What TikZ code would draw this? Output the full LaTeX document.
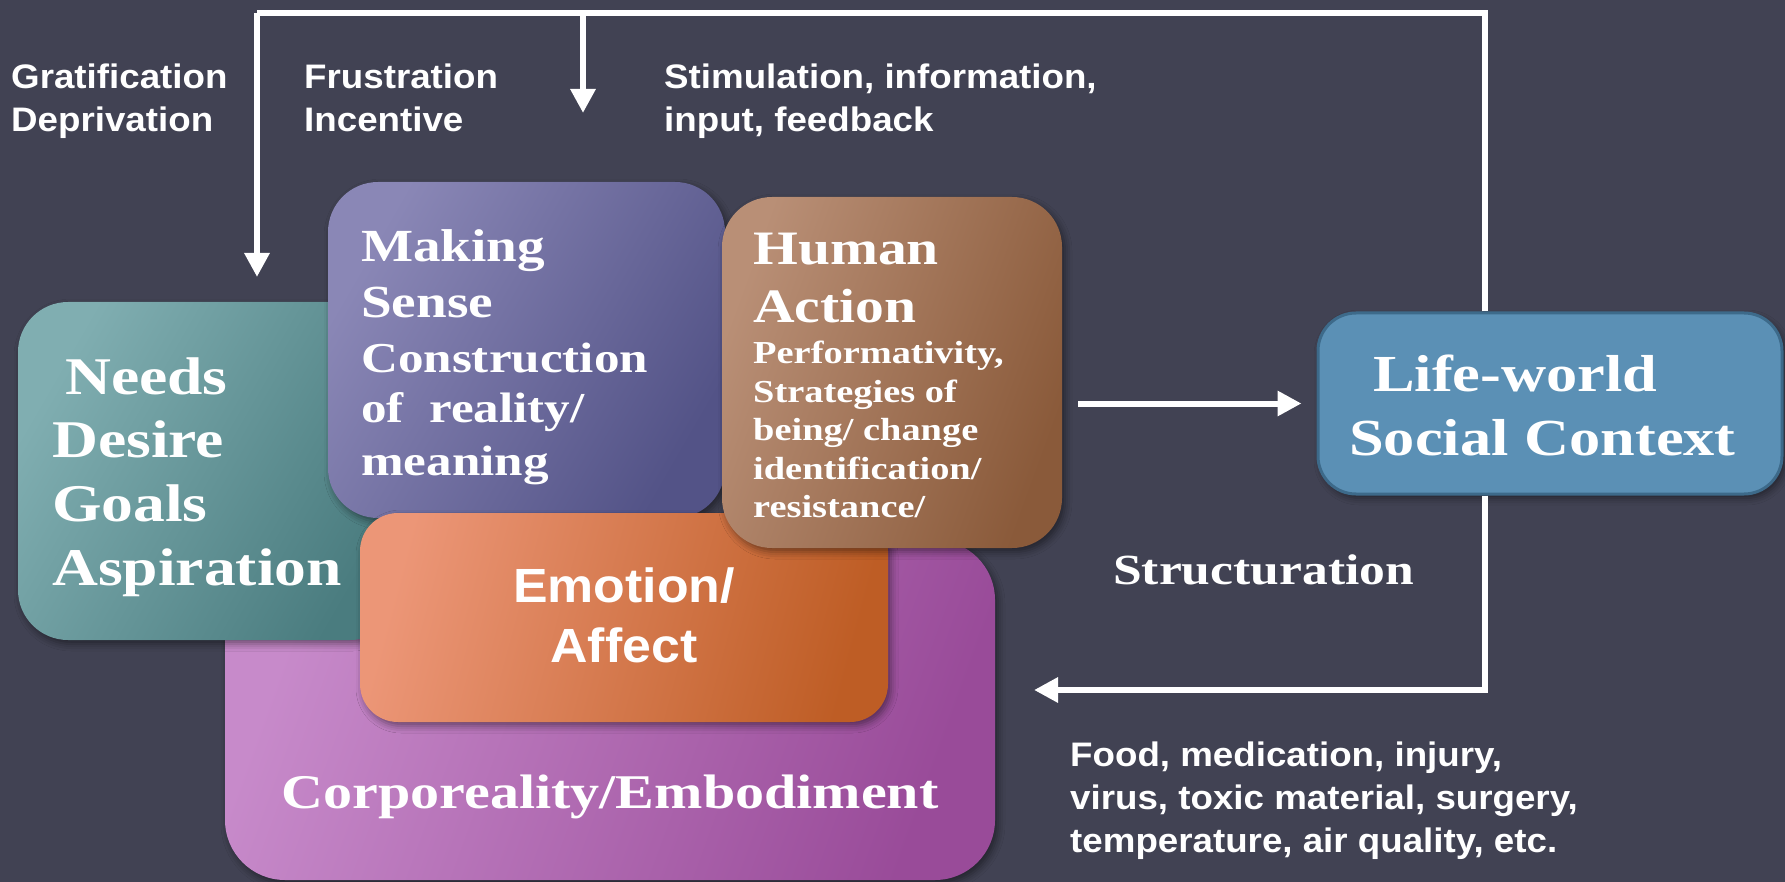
\documentclass[tikz,border=0pt]{standalone}
\usepackage{fontspec}
\newfontfamily\serb{Liberation Serif Bold}[FakeStretch=1.2]
\newfontfamily\sansf{Liberation Sans Bold}[FakeStretch=1.08]
\usetikzlibrary{arrows.meta,shadows.blur}
\definecolor{bg}{HTML}{414253}
\definecolor{tealL}{HTML}{80AEB1}
\definecolor{tealD}{HTML}{4A7C7F}
\definecolor{purpL}{HTML}{8A87B6}
\definecolor{purpD}{HTML}{535387}
\definecolor{brownL}{HTML}{B98F76}
\definecolor{brownD}{HTML}{8A5A3A}
\definecolor{orgL}{HTML}{EC9677}
\definecolor{orgD}{HTML}{BE5D25}
\definecolor{magL}{HTML}{C78ACA}
\definecolor{magD}{HTML}{994B99}
\definecolor{lwfill}{HTML}{5B90B5}
\definecolor{lwedge}{HTML}{3D6A8A}
\newcommand{\fsz}[1]{\fontsize{#1}{#1}\selectfont}
\tikzset{
  lbl/.style={text=white, inner sep=0pt, anchor=base west, font=\sansf\fsz{34}},
  ser/.style={text=white, inner sep=0pt, anchor=base west},
  panel/.style={inner sep=0pt, draw=none, blur shadow={shadow xshift=3pt, shadow yshift=-4pt, shadow blur radius=7pt, shadow opacity=45}},
  wline/.style={draw=white, line width=6pt, line join=miter},
  arr/.style={wline, -{Triangle[length=24pt,width=24pt]}}
}
\begin{document}
\begin{tikzpicture}[x=1pt,y=-1pt]
\useasboundingbox (0,0) rectangle (1785,882);
\fill[bg] (0,0) rectangle (1785,882);

% feedback loop coordinates
\coordinate (tr) at (1485,13);
\coordinate (tl) at (257,13);
\coordinate (tm) at (583,13);
\coordinate (tlend) at (257,277);
\coordinate (tmend) at (583,113);
\coordinate (br) at (1485,690);
\coordinate (bend) at (1034,690);

% boxes
\node[panel, rounded corners=60pt, minimum width=770pt, minimum height=340pt,
  left color=magL, right color=magD, shading angle=70] (corp) at (610,710) {};
\node[ser, anchor=base, font=\serb\fsz{48.4}] (corpt) at (610,808) {Corporeality/Embodiment};

\node[panel, rounded corners=50pt, minimum width=382pt, minimum height=338pt,
  left color=tealL, right color=tealD, shading angle=60] (needs) at (209,471) {};
\node[ser, font=\serb\fsz{53}] (n1) at (52,394) {\hspace*{13pt}Needs};
\node[ser, font=\serb\fsz{53}] (n2) at (52,457) {Desire};
\node[ser, font=\serb\fsz{53}] (n3) at (52,521) {Goals};
\node[ser, font=\serb\fsz{53}] (n4) at (52,585) {Aspiration};

\node[panel, rounded corners=50pt, minimum width=397pt, minimum height=336pt,
  left color=purpL, right color=purpD, shading angle=60] (ms) at (526.5,350) {};
\node[ser, font=\serb\fsz{46}] (m1) at (361,262) {Making};
\node[ser, font=\serb\fsz{46}] (m2) at (361,318) {Sense};
\node[ser, font=\serb\fsz{42.6}] (m3) at (361,373) {Construction};
\node[ser, font=\serb\fsz{42.6}] (m4) at (361,422) {of~~reality/};
\node[ser, font=\serb\fsz{42.6}] (m5) at (361,475) {meaning};

\node[panel, rounded corners=38pt, minimum width=528pt, minimum height=209pt,
  left color=orgL, right color=orgD, shading angle=75] (emo) at (624,617.5) {};
\node[ser, anchor=base, font=\sansf\fsz{48}] (e1) at (624,602) {Emotion/};
\node[ser, anchor=base, font=\sansf\fsz{48}] (e2) at (624,662) {Affect};

\node[panel, rounded corners=50pt, minimum width=340pt, minimum height=351pt,
  left color=brownL, right color=brownD, shading angle=70] (ha) at (892,372.5) {};
\node[ser, font=\serb\fsz{48}] (h1) at (753,265) {Human};
\node[ser, font=\serb\fsz{48}] (h2) at (753,323) {Action};
\node[ser, font=\serb\fsz{32}] (h3) at (753,363) {Performativity,};
\node[ser, font=\serb\fsz{32}] (h4) at (753,402) {Strategies of};
\node[ser, font=\serb\fsz{32}] (h5) at (753,440) {being/ change};
\node[ser, font=\serb\fsz{32}] (h6) at (753,479) {identification/};
\node[ser, font=\serb\fsz{32}] (h7) at (753,517) {resistance/};

\node[panel, rounded corners=38pt, minimum width=464pt, minimum height=181pt,
  fill=lwfill, draw=lwedge, line width=3pt] (lw) at (1550,403.5) {};
\node[ser, font=\serb\fsz{52}] (l1) at (1373,391.5) {Life-world};
\node[ser, font=\serb\fsz{52}] (l2) at (1349,455) {Social Context};

% connectors
\draw[wline] (lw.north -| tr) -- (tr) -- (tl);
\draw[arr] (tl) -- (tlend);
\draw[arr] (tm) -- (tmend);
\draw[arr] ([xshift=16pt]ha.east |- lw.west) -- ([xshift=-15pt]lw.west);
\draw[arr] (lw.south -| br) -- (br) -- (bend);

% labels
\node[lbl] (g1) at (11,89) {Gratification};
\node[lbl] (g2) at (11,132) {Deprivation};
\node[lbl] (f1) at (304,89) {Frustration};
\node[lbl] (f2) at (304,132) {Incentive};
\node[lbl] (s1) at (664,89) {Stimulation, information,};
\node[lbl] (s2) at (664,132) {input, feedback};
\node[ser, font=\serb\fsz{43}] (st) at (1113,584) {Structuration};
\node[lbl] (fd1) at (1070,766) {Food, medication, injury,};
\node[lbl] (fd2) at (1070,809) {virus, toxic material, surgery,};
\node[lbl] (fd3) at (1070,852) {temperature, air quality, etc.};
\end{tikzpicture}
\end{document}
